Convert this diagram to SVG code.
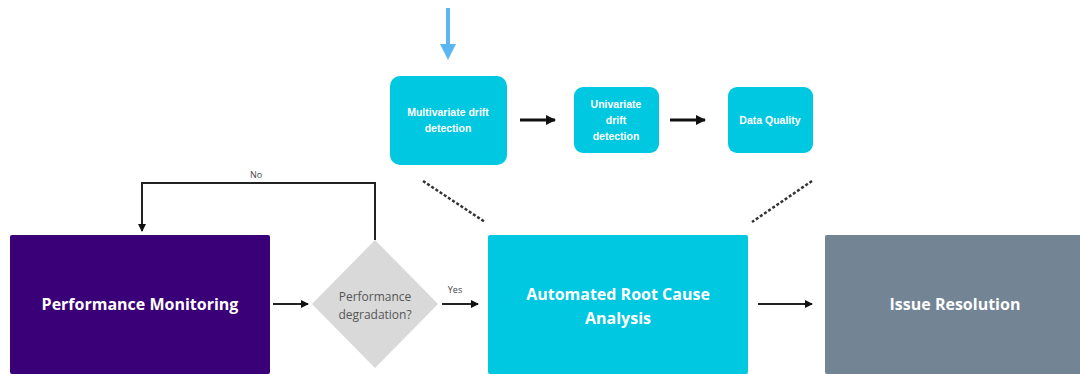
<svg xmlns="http://www.w3.org/2000/svg" width="1080" height="374" viewBox="0 0 1080 374">
<style>
.big{font-family:"Open Sans","Liberation Sans",sans-serif;font-weight:bold;font-size:16px;fill:#fff;text-anchor:middle}
.small{font-family:"Liberation Sans",Arial,sans-serif;font-weight:bold;font-size:10.5px;fill:#fff;text-anchor:middle}
.q{font-family:"Open Sans","Liberation Sans",sans-serif;font-size:12px;fill:#555;text-anchor:middle}
.lbl{font-family:"Open Sans","Liberation Sans",sans-serif;font-size:9px;fill:#444;text-anchor:middle}
.ln{fill:none;stroke:#222;stroke-width:2}
.thick{fill:none;stroke:#111;stroke-width:3}
.dash{fill:none;stroke:#333;stroke-width:2.5;stroke-dasharray:3 2}
</style>
<defs>
<marker id="ah" markerWidth="8" markerHeight="8" refX="7" refY="4" orient="auto" markerUnits="userSpaceOnUse">
<path d="M0,0 L8,4 L0,8 Z" fill="#111"/>
</marker>
<marker id="ah2" markerWidth="10" markerHeight="10" refX="9" refY="5" orient="auto" markerUnits="userSpaceOnUse">
<path d="M0,0 L10,5 L0,10 Z" fill="#111"/>
</marker>
</defs>
<rect width="1080" height="374" fill="#fff"/>
<g id="connectors">
<path d="M448,8 V45" stroke="#5cb6f2" stroke-width="4" fill="none"/>
<path d="M440,44 L456,44 L448,60 Z" fill="#5cb6f2"/>
<path class="thick" d="M520,120 H555" marker-end="url(#ah2)"/>
<path class="thick" d="M670,120 H705" marker-end="url(#ah2)"/>
<path class="dash" d="M423,181 L485,222"/>
<path class="dash" d="M812,181 L752,222"/>
<path class="ln" d="M273,304 H308" marker-end="url(#ah)"/>
<path class="ln" d="M442,304 H478" marker-end="url(#ah)"/>
<path class="ln" d="M375,240 V183 H142 V231" marker-end="url(#ah)"/>
<path class="ln" d="M758,304 H812" marker-end="url(#ah)"/>
<text class="lbl" x="256" y="178">No</text>
<text class="lbl" x="455" y="293">Yes</text>
</g>
<g id="multivariate">
<rect x="390" y="76" width="117" height="89" rx="10" fill="#00c8e0"/>
<text class="small" x="448" y="116">Multivariate drift</text>
<text class="small" x="448" y="132">detection</text>
</g>
<g id="univariate">
<rect x="574" y="87" width="85" height="66" rx="9" fill="#00c8e0"/>
<text class="small" x="616" y="108">Univariate</text>
<text class="small" x="616" y="124">drift</text>
<text class="small" x="616" y="140">detection</text>
</g>
<g id="dataquality">
<rect x="728" y="87" width="85" height="66" rx="9" fill="#00c8e0"/>
<text class="small" x="770" y="124">Data Quality</text>
</g>
<g id="perfmon">
<rect x="10" y="235" width="260" height="139" rx="2" fill="#3a0077"/>
<text class="big" x="140" y="310">Performance Monitoring</text>
</g>
<g id="decision">
<path d="M375,240 L438,304 L375,368 L312,304 Z" fill="#d9d9d9"/>
<text class="q" x="375" y="301">Performance</text>
<text class="q" x="375" y="319">degradation?</text>
</g>
<g id="rca">
<rect x="488" y="235" width="260" height="139" rx="2" fill="#00c8e0"/>
<text class="big" x="618" y="300">Automated Root Cause</text>
<text class="big" x="618" y="324">Analysis</text>
</g>
<g id="resolution">
<rect x="825" y="235" width="260" height="139" rx="2" fill="#738494"/>
<text class="big" x="955" y="310">Issue Resolution</text>
</g>
</svg>
